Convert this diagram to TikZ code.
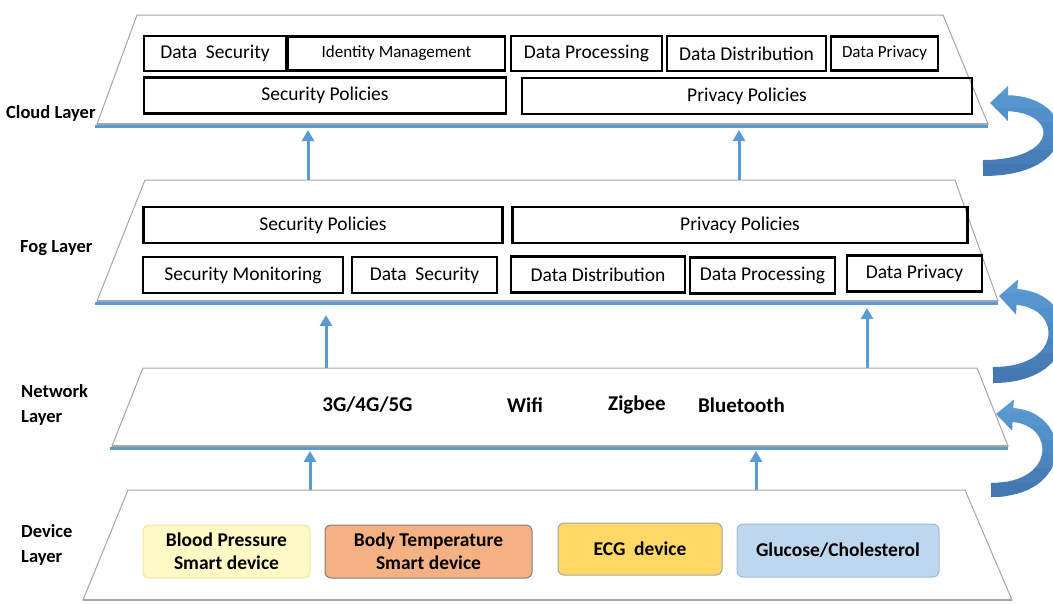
\documentclass[tikz,border=0pt]{standalone}
\usepackage{fontspec}
\setmainfont{Carlito}
\usetikzlibrary{arrows.meta}
\definecolor{lgray}{HTML}{A6A6A6}
\definecolor{lblue}{HTML}{5B9BD5}
\definecolor{ctop}{HTML}{5B9BD5}
\definecolor{cbot}{HTML}{3F72AC}
\definecolor{bpfill}{HTML}{FFF9C6}
\definecolor{bpdraw}{HTML}{F5E6A0}
\definecolor{btfill}{HTML}{F4B183}
\definecolor{ecgfill}{HTML}{FFD966}
\definecolor{glfill}{HTML}{BDD7EE}
\definecolor{gldraw}{HTML}{9DBBDB}
\begin{document}
\begin{tikzpicture}[x=1pt,y=-1pt,
  layer/.style={draw=lgray, line width=1pt, fill=white},
  baseline/.style={draw=lgray, line width=2.5pt},
  blueline/.style={draw=lblue, line width=2.2pt},
  box/.style={draw=black, line width=2.2pt, inner sep=0pt, font=\fontsize{19.5}{22}\selectfont},
  sbox/.style={box, font=\fontsize{17}{20}\selectfont},
  net/.style={inner sep=0pt, font=\bfseries\fontsize{21}{24}\selectfont},
  dev/.style={rounded corners=6pt, line width=1pt, inner sep=0pt, align=center, font=\bfseries\fontsize{19.5}{23}\selectfont},
  lbl/.style={anchor=west, inner sep=0pt, align=left, font=\bfseries\fontsize{18.5}{25}\selectfont},
  uparrow/.style={draw=lblue, line width=3pt, -{Triangle[width=12pt,length=11pt]}},
  curl/.style={line width=16pt, -{Triangle[width=34pt,length=18pt]}}
]
\useasboundingbox (0,0) rectangle (1053,603);

% layers
\draw[layer] (137,15) -- (943,15) -- (988,124) -- (97,124) -- cycle;
\draw[blueline] (95,126.4) -- (988,126.4);
\draw[baseline] (97,124) -- (988,124);

\draw[layer] (145,180) -- (955,180) -- (998,301) -- (97,301) -- cycle;
\draw[blueline] (95,303.4) -- (998,303.4);
\draw[baseline] (97,301) -- (998,301);

\draw[layer] (143,368) -- (977,368) -- (1008,446) -- (112,446) -- cycle;
\draw[blueline] (110,448.4) -- (1008,448.4);
\draw[baseline] (112,446) -- (1008,446);

\draw[layer] (128,490) -- (965,490) -- (1012,600) -- (83,600) -- cycle;
\draw[baseline] (83,600) -- (1012,600);

% labels
\node[lbl] (lcloud) at (6,113) {Cloud Layer};
\node[lbl] (lfog) at (20,248) {Fog Layer};
\node[lbl] (lnet) at (21,405) {Network\\Layer};
\node[lbl] (ldev) at (21,545) {Device\\Layer};

% cloud boxes
\node[box, minimum width=142, minimum height=35] (cds) at (215,53.5) {Data\ \ Security};
\node[sbox, minimum width=217, minimum height=34] (cim) at (396.5,53.5) {Identity Management};
\node[box, minimum width=151, minimum height=35] (cdp) at (586.5,53.5) {Data Processing};
\node[box, minimum width=159, minimum height=35] (cdd) at (746.5,53.5) {Data Distribution};
\node[sbox, minimum width=107, minimum height=34] (cdv) at (884.5,53.5) {Data Privacy};
\node[box, minimum width=362, minimum height=36] (csp) at (325,95.5) {Security Policies};
\node[box, minimum width=450, minimum height=36] (cpp) at (747,96) {Privacy Policies};

% fog boxes
\node[box, minimum width=359, minimum height=36] (fsp) at (323,225) {Security Policies};
\node[box, minimum width=455, minimum height=36] (fpp) at (740,225) {Privacy Policies};
\node[box, minimum width=200, minimum height=36] (fsm) at (243,275) {Security Monitoring\hspace{14pt}};
\node[box, minimum width=145, minimum height=36] (fds) at (424.5,275) {Data\ \ Security};
\node[box, minimum width=174, minimum height=36] (fdd) at (598,274.5) {Data Distribution};
\node[box, minimum width=145, minimum height=36] (fdp) at (762.5,275.5) {Data Processing};
\node[box, minimum width=135, minimum height=36] (fdv) at (914.5,273.5) {Data Privacy\hspace{12pt}};

% network
\node[net] (n1) at (367.5,405) {3G/4G/5G};
\node[net] (n2) at (525,405) {Wifi};
\node[net] (n3) at (637,405) {Zigbee};
\node[net] (n4) at (741.5,405) {Bluetooth};

% devices
\node[dev, draw=bpdraw, fill=bpfill, minimum width=167, minimum height=53] (d1) at (226.5,551.5) {Blood Pressure\\Smart device};
\node[dev, draw=gray, fill=btfill, minimum width=207, minimum height=53] (d2) at (428.5,551.5) {Body Temperature\\Smart device};
\node[dev, draw=lgray, fill=ecgfill, minimum width=164, minimum height=52] (d3) at (640,549) {ECG\ \ device};
\node[dev, draw=gldraw, fill=glfill, minimum width=202, minimum height=53] (d4) at (838,550.5) {Glucose/Cholesterol};

% straight arrows
\coordinate (a1s) at (308,180); \coordinate (a1e) at (308,130);
\coordinate (a2s) at (739,180); \coordinate (a2e) at (739,130);
\coordinate (a3s) at (326,368); \coordinate (a3e) at (326,315);
\coordinate (a4s) at (867,368); \coordinate (a4e) at (867,308);
\coordinate (a5s) at (310,490); \coordinate (a5e) at (310,451);
\coordinate (a6s) at (756,490); \coordinate (a6e) at (756,451);
\draw[uparrow] (a1s) -- (a1e);
\draw[uparrow] (a2s) -- (a2e);
\draw[uparrow] (a3s) -- (a3e);
\draw[uparrow] (a4s) -- (a4e);
\draw[uparrow] (a5s) -- (a5e);
\draw[uparrow] (a6s) -- (a6e);

% curved arrows (banded shading, light at top, dark at bottom)
\coordinate (c1s) at (983,168); \coordinate (c1e) at (990,103);
\coordinate (c2s) at (993,375); \coordinate (c2e) at (999,296);
\coordinate (c3s) at (991,490); \coordinate (c3e) at (996,414);
\foreach \i in {0,...,7}{
  \pgfmathsetmacro{\pc}{100-\i*100/7}
  \begin{scope}
    \clip (960,{80+\i*14}) rectangle (1053,{80+(\i+1)*14+0.6});
    \draw[curl, draw=ctop!\pc!cbot] (c1s) .. controls (1072,168) and (1068,104) .. (c1e);
  \end{scope}
  \begin{scope}
    \clip (960,{278+\i*15}) rectangle (1053,{278+(\i+1)*15+0.6});
    \draw[curl, draw=ctop!\pc!cbot] (c2s) .. controls (1075,375) and (1072,300) .. (c2e);
  \end{scope}
  \begin{scope}
    \clip (960,{398+\i*14}) rectangle (1053,{398+(\i+1)*14+0.6});
    \draw[curl, line width=14pt, -{Triangle[width=30pt,length=17pt]}, draw=ctop!\pc!cbot] (c3s) .. controls (1066,490) and (1064,418) .. (c3e);
  \end{scope}
}
\end{tikzpicture}
\end{document}
